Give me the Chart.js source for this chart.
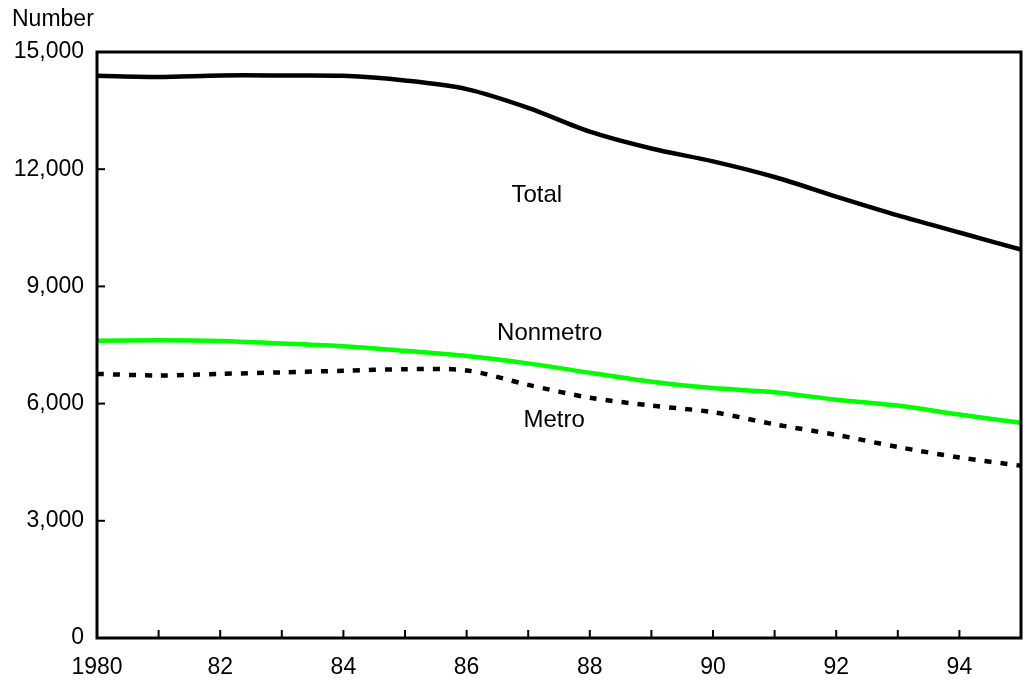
<!DOCTYPE html>
<html>
<head>
<meta charset="utf-8">
<script src="https://cdn.jsdelivr.net/npm/chart.js@4.4.1/dist/chart.umd.min.js"></script>
<style>
html,body{margin:0;padding:0;background:#fff;}
#wrap{width:1025px;height:682px;position:relative;}
</style>
</head>
<body>
<div id="wrap"><canvas id="c" width="1025" height="682"></canvas></div>
<script>
const years = [1980,1981,1982,1983,1984,1985,1986,1987,1988,1989,1990,1991,1992,1993,1994,1995];
const total    = [14390,14360,14400,14400,14390,14270,14050,13570,12960,12530,12200,11800,11300,10820,10380,9940];
const nonmetro = [7610,7620,7600,7540,7470,7350,7220,7030,6790,6560,6400,6290,6100,5950,5720,5510];
const metro    = [6760,6720,6760,6800,6840,6880,6850,6480,6150,5950,5780,5470,5200,4890,4620,4410];
const yTicks = [0,3000,6000,9000,12000,15000];
const xLabelYears = [1980,1982,1984,1986,1988,1990,1992,1994];
const seriesLabels = [
  {text:'Total', x:1987.14, y:11340},
  {text:'Nonmetro', x:1987.35, y:7806},
  {text:'Metro', x:1987.42, y:5580}
];

const FONT = '"Liberation Sans", Arial, sans-serif';

function pts(arr){ return years.map((y,i)=>({x:y,y:arr[i]})); }

const framePlugin = {
  id:'frame',
  afterDatasetsDraw(chart){
    const {ctx, chartArea:a, scales:{x,y}} = chart;
    ctx.save();
    ctx.strokeStyle='#000';
    ctx.lineWidth=3;
    ctx.strokeRect(a.left, a.top, a.right-a.left, a.bottom-a.top);
    ctx.lineWidth=2;
    for(let yr=1981; yr<=1994; yr++){
      const px = x.getPixelForValue(yr);
      ctx.beginPath(); ctx.moveTo(px, a.bottom); ctx.lineTo(px, a.bottom-8); ctx.stroke();
    }
    yTicks.forEach(v=>{
      if(v===0||v===15000) return;
      const py = y.getPixelForValue(v);
      ctx.beginPath(); ctx.moveTo(a.left, py); ctx.lineTo(a.left+8, py); ctx.stroke();
    });
    ctx.fillStyle='#000';
    ctx.font='24px '+FONT;
    ctx.textAlign='center'; ctx.textBaseline='middle';
    seriesLabels.forEach(l=>{
      ctx.fillText(l.text, x.getPixelForValue(l.x), y.getPixelForValue(l.y));
    });
    ctx.textAlign='left';
    ctx.font='23px '+FONT;
    ctx.fillText('Number', 12, 20);
    ctx.restore();
  }
};

new Chart(document.getElementById('c'), {
  type:'line',
  data:{
    datasets:[
      {label:'Total', data:pts(total), borderColor:'#000', borderWidth:4.5, pointRadius:0, tension:0.3, fill:false},
      {label:'Nonmetro', data:pts(nonmetro), borderColor:'#00ff00', borderWidth:4.5, pointRadius:0, tension:0.3, fill:false},
      {label:'Metro', data:pts(metro), borderColor:'#000', borderWidth:4.5, borderDash:[7,9], pointRadius:0, tension:0.3, fill:false}
    ]
  },
  options:{
    responsive:false,
    animation:false,
    devicePixelRatio:1,
    layout:{padding:{top:52,right:4,left:0,bottom:0}},
    plugins:{legend:{display:false}, tooltip:{enabled:false}},
    scales:{
      x:{
        type:'linear', min:1980, max:1995,
        afterBuildTicks(scale){ scale.ticks = xLabelYears.map(v=>({value:v})); },
        afterFit(scale){ scale.height = 44; },
        grid:{display:false, drawTicks:false},
        border:{display:false},
        ticks:{
          padding:16, maxRotation:0, autoSkip:false, color:'#000',
          font:{family:FONT, size:23},
          callback(v){ return v===1980 ? '1980' : String(v).slice(2); }
        }
      },
      y:{
        min:0, max:15000,
        afterBuildTicks(scale){ scale.ticks = yTicks.map(v=>({value:v})); },
        afterFit(scale){ scale.width = 97; },
        grid:{display:false, drawTicks:false},
        border:{display:false},
        ticks:{
          padding:13, color:'#000',
          font:{family:FONT, size:23},
          callback(v){ return v.toLocaleString('en-US'); }
        }
      }
    }
  },
  plugins:[framePlugin]
});
</script>
</body>
</html>
